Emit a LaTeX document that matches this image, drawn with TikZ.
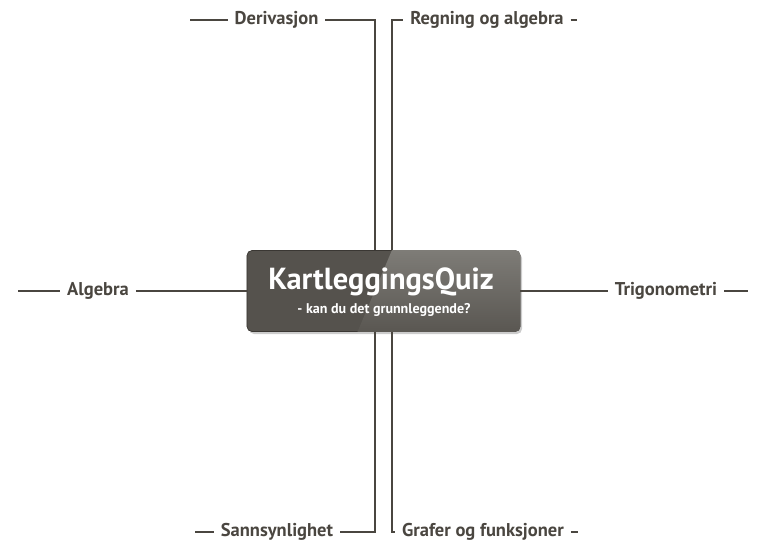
\documentclass[tikz,border=0pt]{standalone}
\usepackage{fontspec}
\setmainfont{PT Sans}
\usetikzlibrary{positioning}

\definecolor{linegray}{HTML}{4A4640}
\definecolor{boxgray}{HTML}{55524D}
\definecolor{boxlight}{HTML}{7E7C77}
\definecolor{boxedge}{HTML}{3A3733}

\tikzset{
  topic/.style={font=\bfseries\fontsize{15.8}{18}\selectfont, text=linegray,
    inner sep=0pt, outer sep=0.21cm, text height=0.7em, text depth=0pt},
  branch/.style={draw=linegray, line width=2.2pt},
  quizbox/.style={draw=boxedge, line width=0.6pt, fill=boxgray, rounded corners=0.15cm,
    minimum width=8.19cm, minimum height=2.43cm, inner sep=0pt},
}

\begin{document}
\begin{tikzpicture}[x=0.03cm, y=-0.03cm]
\useasboundingbox (0,0) rectangle (767,556);

% sentral boks
\fill[black!20, rounded corners=0.15cm] (249,253) rectangle (522,334);
\node[quizbox] (quiz) at (383.5,291) {};
\begin{scope}
  \clip[rounded corners=0.15cm] (quiz.south west) rectangle (quiz.north east);
  \shade[top color=boxlight, bottom color=boxgray!90!boxlight]
    (392,250) -- (521,250) -- (521,333) -- (357,333) -- cycle;
\end{scope}
\node[font=\bfseries\fontsize{26}{30}\selectfont, text=white] (tittel) at (381,282) {KartleggingsQuiz};
\node[font=\bfseries\fontsize{12}{14}\selectfont, text=white] (undertittel) at (384,310) {- kan du det grunnleggende?};

% hjelpelinjer
\coordinate (vl) at (375,0);
\coordinate (vr) at (392,0);

% emner
\node[topic] (deriv) at (276.5,20) {Derivasjon};
\node[topic] (regning) at (487,20) {Regning og algebra};
\node[topic] (algebra) at (98,291) {Algebra};
\node[topic] (trig) at (666,291) {Trigonometri};
\node[topic] (sann) at (277,532) {Sannsynlighet};
\node[topic] (grafer) at (483,532) {Grafer og funksjoner};

% korte streker
\coordinate (deriv-ende) at (190,20);
\coordinate (regning-ende) at (577,20);
\coordinate (algebra-ende) at (18,291);
\coordinate (trig-ende) at (748,291);
\coordinate (sann-ende) at (195,532);
\coordinate (grafer-ende) at (578,532);

% grener
\draw[branch] (deriv-ende) -- (deriv.west);
\draw[branch] (deriv.east) -| (quiz.north -| vl);
\draw[branch] (quiz.north -| vr) |- (regning.west);
\draw[branch] (regning.east) -- (regning-ende);
\draw[branch] (algebra-ende) -- (algebra.west);
\draw[branch] (algebra.east) -- (algebra.east -| quiz.west);
\draw[branch] (trig.west -| quiz.east) -- (trig.west);
\draw[branch] (trig.east) -- (trig-ende);
\draw[branch] (sann-ende) -- (sann.west);
\draw[branch] (sann.east) -| (quiz.south -| vl);
\draw[branch] (quiz.south -| vr) |- (grafer.west);
\draw[branch] (grafer.east) -- (grafer-ende);

\end{tikzpicture}
\end{document}
